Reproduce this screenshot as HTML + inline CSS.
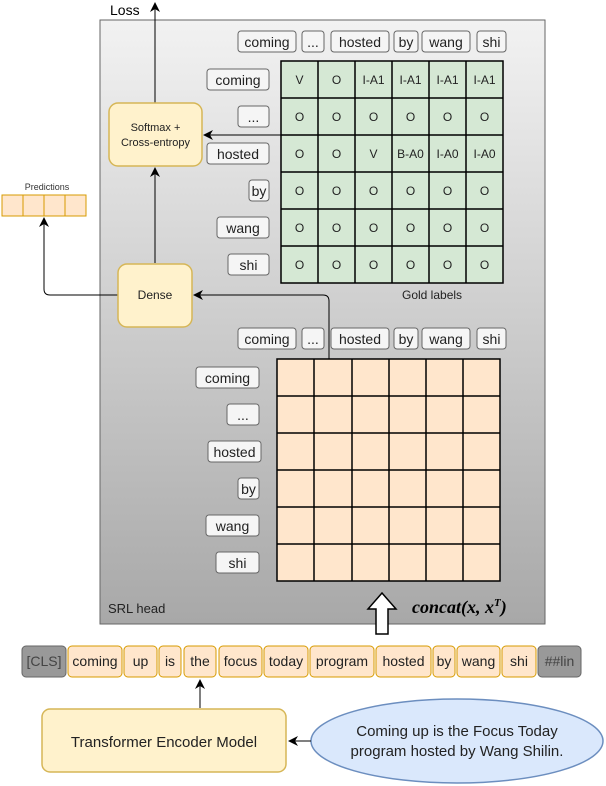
<!DOCTYPE html>
<html><head><meta charset="utf-8"><style>
html,body{margin:0;padding:0;background:#fff}
svg{display:block}
text{font-family:"Liberation Sans",sans-serif}
</style></head><body>
<svg width="606" height="786" viewBox="0 0 606 786" xmlns="http://www.w3.org/2000/svg">
<defs>
<linearGradient id="g" x1="0" y1="0" x2="0" y2="1">
<stop offset="0" stop-color="#f2f2f2"/><stop offset="1" stop-color="#a8a8a8"/>
</linearGradient>
<marker id="ah" markerWidth="10" markerHeight="10" refX="9" refY="5" orient="auto" markerUnits="userSpaceOnUse">
<path d="M0,0 L10,5 L0,10 L3,5 z" fill="#000"/>
</marker>
</defs>
<rect x="100" y="20" width="445" height="604" fill="url(#g)" stroke="#666" stroke-width="1"/>
<text x="108" y="613" font-size="13" fill="#222">SRL head</text>

<text x="110" y="15" font-size="14" fill="#000">Loss</text>
<line x1="155" y1="103" x2="155" y2="3" stroke="#000" marker-end="url(#ah)"/>

<rect x="281" y="61" width="222" height="222" fill="#d5e8d4" stroke="#000" stroke-width="1.5"/>
<g stroke="#000" stroke-width="1.5">
<line x1="318" y1="61" x2="318" y2="283"/><line x1="355" y1="61" x2="355" y2="283"/><line x1="392" y1="61" x2="392" y2="283"/><line x1="429" y1="61" x2="429" y2="283"/><line x1="466" y1="61" x2="466" y2="283"/>
<line x1="281" y1="98" x2="503" y2="98"/><line x1="281" y1="135" x2="503" y2="135"/><line x1="281" y1="172" x2="503" y2="172"/><line x1="281" y1="209" x2="503" y2="209"/><line x1="281" y1="246" x2="503" y2="246"/>
</g>
<g font-size="12" text-anchor="middle" fill="#222">
<text x="299.5" y="84">V</text><text x="336.5" y="84">O</text><text x="373.5" y="84">I-A1</text><text x="410.5" y="84">I-A1</text><text x="447.5" y="84">I-A1</text><text x="484.5" y="84">I-A1</text>
<text x="299.5" y="121">O</text><text x="336.5" y="121">O</text><text x="373.5" y="121">O</text><text x="410.5" y="121">O</text><text x="447.5" y="121">O</text><text x="484.5" y="121">O</text>
<text x="299.5" y="158">O</text><text x="336.5" y="158">O</text><text x="373.5" y="158">V</text><text x="410.5" y="158">B-A0</text><text x="447.5" y="158">I-A0</text><text x="484.5" y="158">I-A0</text>
<text x="299.5" y="195">O</text><text x="336.5" y="195">O</text><text x="373.5" y="195">O</text><text x="410.5" y="195">O</text><text x="447.5" y="195">O</text><text x="484.5" y="195">O</text>
<text x="299.5" y="232">O</text><text x="336.5" y="232">O</text><text x="373.5" y="232">O</text><text x="410.5" y="232">O</text><text x="447.5" y="232">O</text><text x="484.5" y="232">O</text>
<text x="299.5" y="269">O</text><text x="336.5" y="269">O</text><text x="373.5" y="269">O</text><text x="410.5" y="269">O</text><text x="447.5" y="269">O</text><text x="484.5" y="269">O</text>
</g>
<text x="402" y="299" font-size="12" fill="#222">Gold labels</text>

<g stroke="#666" fill="#f5f5f5" stroke-width="1">
<rect x="238" y="31" width="58" height="21" rx="3"/><rect x="302" y="31" width="22" height="21" rx="3"/><rect x="331" y="31" width="58" height="21" rx="3"/><rect x="394" y="31" width="24" height="21" rx="3"/><rect x="422" y="31" width="48" height="21" rx="3"/><rect x="477" y="31" width="29" height="21" rx="3"/>
<rect x="207" y="69" width="62" height="21" rx="3"/><rect x="238" y="106" width="31" height="21" rx="3"/><rect x="207" y="143" width="62" height="21" rx="3"/><rect x="249" y="180" width="20" height="21" rx="3"/><rect x="217" y="217" width="52" height="21" rx="3"/><rect x="228" y="254" width="41" height="21" rx="3"/>
<rect x="238" y="328" width="58" height="21" rx="3"/><rect x="302" y="328" width="22" height="21" rx="3"/><rect x="331" y="328" width="58" height="21" rx="3"/><rect x="394" y="328" width="24" height="21" rx="3"/><rect x="422" y="328" width="48" height="21" rx="3"/><rect x="477" y="328" width="29" height="21" rx="3"/>
<rect x="196" y="367" width="63" height="21" rx="3"/><rect x="227" y="404" width="32" height="21" rx="3"/><rect x="208" y="441" width="53" height="21" rx="3"/><rect x="238" y="478" width="21" height="21" rx="3"/><rect x="206" y="515" width="53" height="21" rx="3"/><rect x="216" y="552" width="43" height="21" rx="3"/>
</g>
<g font-size="14" text-anchor="middle" fill="#222">
<text x="267" y="47">coming</text><text x="313" y="47">...</text><text x="360" y="47">hosted</text><text x="406" y="47">by</text><text x="446" y="47">wang</text><text x="491.5" y="47">shi</text>
<text x="238" y="85">coming</text><text x="253.5" y="122">...</text><text x="238" y="159">hosted</text><text x="259" y="196">by</text><text x="243" y="233">wang</text><text x="248.5" y="270">shi</text>
<text x="267" y="344">coming</text><text x="313" y="344">...</text><text x="360" y="344">hosted</text><text x="406" y="344">by</text><text x="446" y="344">wang</text><text x="491.5" y="344">shi</text>
<text x="227.5" y="383">coming</text><text x="243" y="420">...</text><text x="234.5" y="457">hosted</text><text x="248.5" y="494">by</text><text x="232.5" y="531">wang</text><text x="237.5" y="568">shi</text>
</g>

<rect x="277" y="359" width="223" height="222" fill="#ffe6cc" stroke="#000" stroke-width="1.5"/>
<g stroke="#000" stroke-width="1.5">
<line x1="314" y1="359" x2="314" y2="581"/><line x1="352" y1="359" x2="352" y2="581"/><line x1="389" y1="359" x2="389" y2="581"/><line x1="426" y1="359" x2="426" y2="581"/><line x1="463" y1="359" x2="463" y2="581"/>
<line x1="277" y1="396" x2="500" y2="396"/><line x1="277" y1="433" x2="500" y2="433"/><line x1="277" y1="470" x2="500" y2="470"/><line x1="277" y1="507" x2="500" y2="507"/><line x1="277" y1="544" x2="500" y2="544"/>
</g>

<path d="M329,359 L329,301 Q329,295 323,295 L194,295" fill="none" stroke="#000" marker-end="url(#ah)"/>
<line x1="281" y1="135" x2="204" y2="135" stroke="#000" marker-end="url(#ah)"/>
<line x1="155" y1="263" x2="155" y2="168" stroke="#000" marker-end="url(#ah)"/>
<path d="M118,295 L50,295 Q44,295 44,289 L44,218" fill="none" stroke="#000" marker-end="url(#ah)"/>

<rect x="109" y="103" width="93" height="63" rx="9" fill="#fff2cc" stroke="#d6b656" stroke-width="1.5"/>
<text x="155.5" y="131" font-size="11" text-anchor="middle" fill="#222">Softmax +</text>
<text x="155.5" y="146" font-size="11" text-anchor="middle" fill="#222">Cross-entropy</text>
<rect x="118" y="264" width="74" height="63" rx="9" fill="#fff2cc" stroke="#d6b656" stroke-width="1.5"/>
<text x="155" y="299" font-size="12" text-anchor="middle" fill="#222">Dense</text>

<text x="47" y="190" font-size="9" text-anchor="middle" fill="#333">Predictions</text>
<g fill="#ffe6cc" stroke="#d79b00">
<rect x="2" y="195" width="21" height="21"/><rect x="23" y="195" width="21" height="21"/><rect x="44" y="195" width="21" height="21"/><rect x="65" y="195" width="21" height="21"/>
</g>

<path d="M376,634 L376,609 L368,609 L382,593 L396,609 L388,609 L388,634 z" fill="#fff" stroke="#000" stroke-width="1.5"/>
<text x="412" y="613" font-size="18" fill="#000" style="font-family:'Liberation Serif',serif;font-style:italic;font-weight:bold">concat(x, x<tspan font-size="11" dy="-7">T</tspan><tspan dy="7">)</tspan></text>

<g stroke-width="1">
<rect x="22" y="646" width="44" height="31" rx="4" fill="#999" stroke="#666"/>
<rect x="538" y="646" width="43" height="31" rx="4" fill="#999" stroke="#666"/>
<g fill="#ffe6cc" stroke="#d79b00">
<rect x="68" y="646" width="54" height="31" rx="4"/><rect x="124" y="646" width="33" height="31" rx="4"/><rect x="159" y="646" width="22" height="31" rx="4"/><rect x="184" y="646" width="32" height="31" rx="4"/><rect x="219" y="646" width="43" height="31" rx="4"/><rect x="264" y="646" width="44" height="31" rx="4"/><rect x="310" y="646" width="64" height="31" rx="4"/><rect x="376" y="646" width="55" height="31" rx="4"/><rect x="433" y="646" width="22" height="31" rx="4"/><rect x="457" y="646" width="43" height="31" rx="4"/><rect x="502" y="646" width="34" height="31" rx="4"/>
</g>
</g>
<g font-size="14" text-anchor="middle" fill="#222">
<text x="44" y="666" fill="#444">[CLS]</text><text x="95" y="666">coming</text><text x="140.5" y="666">up</text><text x="170" y="666">is</text><text x="200" y="666">the</text><text x="240.5" y="666">focus</text><text x="286" y="666">today</text><text x="342" y="666">program</text><text x="403.5" y="666">hosted</text><text x="444" y="666">by</text><text x="478.5" y="666">wang</text><text x="519" y="666">shi</text><text x="559.5" y="666" fill="#444">##lin</text>
</g>

<line x1="200" y1="708" x2="200" y2="680" stroke="#000" marker-end="url(#ah)"/>
<rect x="42" y="709" width="244" height="63" rx="8" fill="#fff2cc" stroke="#d6b656" stroke-width="1.5"/>
<text x="164" y="747" font-size="15" text-anchor="middle" fill="#222">Transformer Encoder Model</text>
<ellipse cx="457" cy="741" rx="146" ry="42" fill="#dae8fc" stroke="#6c8ebf" stroke-width="1.5"/>
<line x1="311" y1="741" x2="289" y2="741" stroke="#000" marker-end="url(#ah)"/>
<text x="457" y="736" font-size="15" text-anchor="middle" fill="#222">Coming up is the Focus Today</text>
<text x="457" y="756" font-size="15" text-anchor="middle" fill="#222">program hosted by Wang Shilin.</text>
</svg>
</body></html>
